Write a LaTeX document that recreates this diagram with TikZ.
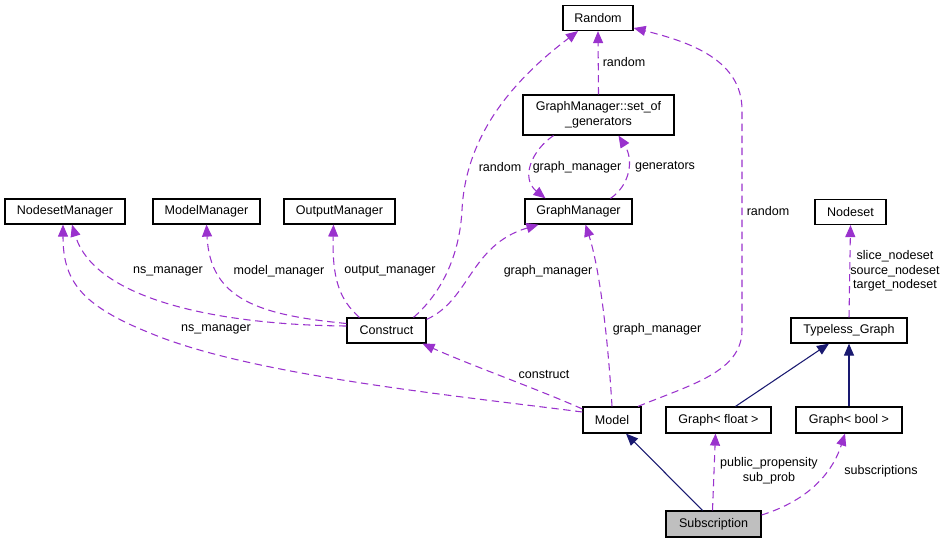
\documentclass[tikz,border=0pt]{standalone}
\usepackage{fontspec}
\setmainfont{Liberation Sans}
\usetikzlibrary{arrows.meta,calc}
\definecolor{depc}{HTML}{9A32CD}
\definecolor{inhc}{HTML}{191970}
\begin{document}
\begin{tikzpicture}[x=0.75pt,y=-0.75pt,
  every node/.style={font=\fontsize{9.4}{10.9}\selectfont},
  cls/.style={draw=black, line width=0.9pt, fill=white, inner sep=0pt, minimum height=25*0.75pt, align=center},
  wd/.style={minimum width=#1*0.75pt},
  dep/.style={draw=depc, line width=0.8pt, dash pattern=on 5.5pt off 3.5pt, -{Triangle[length=9pt,width=7.5pt,fill=depc]}},
  inh/.style={draw=inhc, line width=0.8pt, -{Triangle[length=9pt,width=7.5pt,fill=inhc]}},
  lab/.style={inner sep=0pt, align=center}]
\useasboundingbox (0,0) rectangle (948,543);

% classes
\node[cls,wd=70] (Random) at (598,18) {Random};
\node[cls,wd=151,minimum height=40*0.75pt] (sog) at (598.5,115) {GraphManager::set\_of\\\_generators};
\node[cls,wd=107] (GM) at (578.5,211.5) {GraphManager};
\node[cls,wd=120] (NSM) at (65,211.5) {NodesetManager};
\node[cls,wd=107] (MM) at (206.5,211.5) {ModelManager};
\node[cls,wd=111] (OM) at (339.5,211.5) {OutputManager};
\node[cls,wd=79] (Con) at (386.5,330.5) {Construct};
\node[cls,wd=71] (Nodeset) at (850.5,212) {Nodeset};
\node[cls,wd=116] (TG) at (849,330.5) {Typeless\_Graph};
\node[cls,wd=58,minimum height=26*0.75pt] (Model) at (612,420) {Model};
\node[cls,wd=105,minimum height=26*0.75pt] (GF) at (718.5,420) {Graph< float >};
\node[cls,wd=106,minimum height=26*0.75pt] (GB) at (849,420) {Graph< bool >};
\node[cls,wd=95,minimum height=26*0.75pt,fill=black!25] (Sub) at (713.5,524) {Subscription};

% dependency edges
\draw[dep] (sog.north) -- (Random.south);
\draw[dep] ($(sog.south)+(-45,0)$) .. controls (532,150) and (520,178) .. ($(GM.north)+(-33,0)$);
\draw[dep] ($(GM.north)+(32,0)$) .. controls (630,185) and (634,160) .. ($(sog.south)+(20,0)$);
\draw[dep] ($(Con.north)+(27,0)$) .. controls (445,290) and (460,250) .. (462,210) .. controls (466,130) and (520,75) .. ($(Random.south)+(-20,0)$);
\draw[dep] ($(Model.north)+(26,0)$) .. controls (690,385) and (742,372) .. (742,330) -- (742,110) .. controls (742,60) and (690,42) .. ($(Random.east)+(0,10)$);
\draw[dep] ($(Con.north east)+(0,2)$) .. controls (470,300) and (470,245) .. ($(GM.south)+(-40,0)$);
\draw[dep] (Model.north) .. controls (608,340) and (600,270) .. ($(GM.south)+(7,0)$);
\draw[dep] ($(Con.west)+(0,-4.5)$) .. controls (220,325) and (95,300) .. ($(NSM.south)+(7,0)$);
\draw[dep] ($(Model.west)+(0,-8)$) .. controls (450,395) and (250,375) .. (150,333) .. controls (80,305) and (63,280) .. ($(NSM.south)+(-2,0)$);
\draw[dep] ($(Con.west)+(0,-7)$) .. controls (260,315) and (210,300) .. (MM.south);
\draw[dep] ($(Con.north west)+(13,0)$) .. controls (340,300) and (332,280) .. ($(OM.south)+(-6,0)$);
\draw[dep] ($(Model.west)+(0,-11)$) .. controls (540,390) and (470,365) .. ($(Con.south)+(36,0)$);
\draw[dep] ($(Sub.north)+(-1,0)$) -- ($(GF.south)+(-3,0)$);
\draw[dep] ($(Sub.east)+(0,-9)$) .. controls (800,503) and (830,480) .. ($(GB.south)+(-4,0)$);
\draw[dep] (TG.north) -- (Nodeset.south);

% inheritance edges
\draw[inh] ($(Sub.north)+(-11,0)$) -- ($(Model.south)+(14,0)$);
\draw[inh] ($(GF.north)+(17,0)$) -- ($(TG.south)+(-20,0)$);
\draw[inh] (GB.north) -- (TG.south);

% labels
\node[lab] (l1) at (624,62) {random};
\node[lab] (l2) at (577,167) {graph\_manager};
\node[lab] (l3) at (665,167) {generators};
\node[lab] (l4) at (500,167) {random};
\node[lab] (l5) at (768,211) {random};
\node[lab] (l6) at (168,271) {ns\_manager};
\node[lab] (l7) at (279,271) {model\_manager};
\node[lab] (l8) at (390,271) {output\_manager};
\node[lab] (l9) at (548,271) {graph\_manager};
\node[lab] (l10) at (216,329) {ns\_manager};
\node[lab] (l11) at (657,329) {graph\_manager};
\node[lab] (l12) at (544,375) {construct};
\node[lab] (l13) at (895,271) {slice\_nodeset\\source\_nodeset\\target\_nodeset};
\node[lab] (l14) at (769,471) {public\_propensity\\sub\_prob};
\node[lab] (l15) at (881,471) {subscriptions};
\end{tikzpicture}
\end{document}
